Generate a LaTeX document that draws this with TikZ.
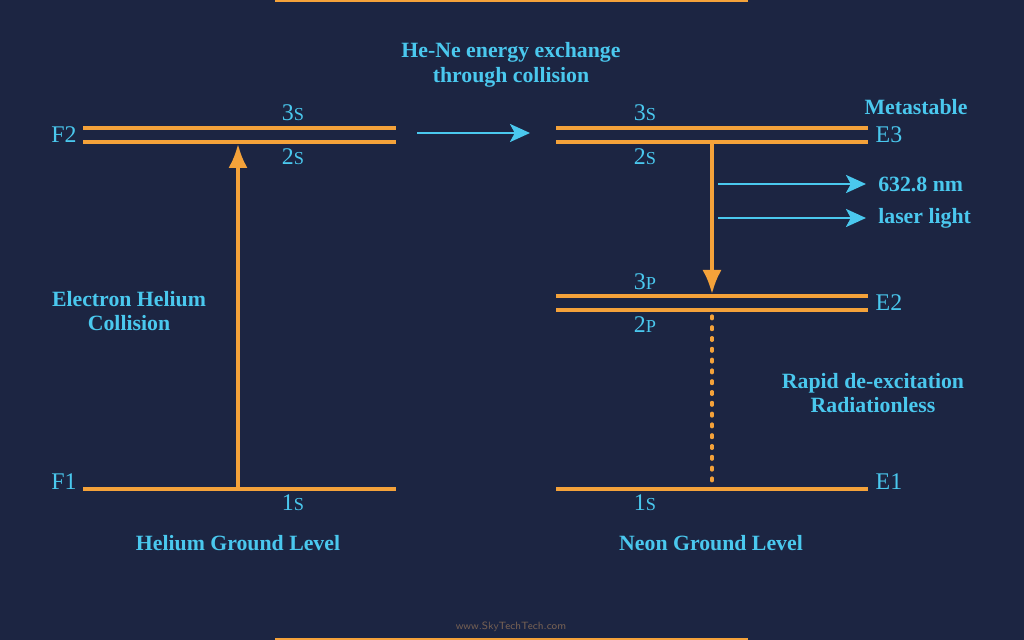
\documentclass[tikz,border=0pt]{standalone}
\usepackage{fontspec}
\setmainfont{Liberation Serif}
\usetikzlibrary{arrows.meta}
\definecolor{bgblue}{RGB}{28,37,66}
\definecolor{lvlorange}{RGB}{244,162,58}
\definecolor{txtcyan}{RGB}{74,200,238}
\definecolor{markgrey}{RGB}{120,98,84}
\newcommand{\orb}[2]{#1{\fontsize{13}{13}\selectfont #2}}
\tikzset{
  level/.style={draw=lvlorange, line width=1.1mm},
  lbl/.style={text=txtcyan, font=\bfseries\fontsize{15.5}{17.5}\selectfont, inner sep=0pt, align=center},
  orbit/.style={text=txtcyan, font=\fontsize{17}{17}\selectfont, inner sep=0pt},
  trans/.style={draw=lvlorange, line width=0.9mm, -{Latex[length=6mm,width=4.8mm]}},
  photon/.style={draw=txtcyan, line width=0.7mm, -{Stealth[length=5mm,width=4.5mm,inset=1.2mm]}}
}
\begin{document}
\begin{tikzpicture}[x=0.25mm, y=-0.25mm]
  \fill[bgblue] (0,0) rectangle (1024,640);
  \useasboundingbox (0,0) rectangle (1024,640);

      % frame bars
      \draw[level] (275,0) -- (748,0);
      \draw[level] (275,640) -- (748,640);

      % helium levels
      \coordinate (he3a) at (83,128);  \coordinate (he3b) at (396,128);
      \coordinate (he2a) at (83,142);  \coordinate (he2b) at (396,142);
      \coordinate (he1a) at (83,489);  \coordinate (he1b) at (396,489);
      \draw[level] (he3a) -- (he3b);
      \draw[level] (he2a) -- (he2b);
      \draw[level] (he1a) -- (he1b);

      % neon levels
      \coordinate (ne3a) at (556,128); \coordinate (ne3b) at (868,128);
      \coordinate (ne2a) at (556,142); \coordinate (ne2b) at (868,142);
      \coordinate (nepa) at (556,296); \coordinate (nepb) at (868,296);
      \coordinate (neqa) at (556,310); \coordinate (neqb) at (868,310);
      \coordinate (ne1a) at (556,489); \coordinate (ne1b) at (868,489);
      \draw[level] (ne3a) -- (ne3b);
      \draw[level] (ne2a) -- (ne2b);
      \draw[level] (nepa) -- (nepb);
      \draw[level] (neqa) -- (neqb);
      \draw[level] (ne1a) -- (ne1b);

      % transitions
      \coordinate (heup0) at (238,489); \coordinate (heup1) at (238,144);
      \coordinate (nedn0) at (712,142); \coordinate (nedn1) at (712,294);
      \coordinate (ndot0) at (712,316); \coordinate (ndot1) at (712,489);
      \draw[trans] (heup0) -- (heup1);
      \draw[trans] (nedn0) -- (nedn1);
      \draw[draw=lvlorange, line width=0.8mm, line cap=round,
            dash pattern=on 0.7mm off 2mm] (ndot0) -- (ndot1);

      \coordinate (xch0) at (417,133); \coordinate (xch1) at (530,133);
      \coordinate (lasa0) at (718,184); \coordinate (lasa1) at (866,184);
      \coordinate (lasb0) at (718,218); \coordinate (lasb1) at (866,218);
      \draw[photon] (xch0) -- (xch1);
      \draw[photon] (lasa0) -- (lasa1);
      \draw[photon] (lasb0) -- (lasb1);

      % level names
      \node[orbit] (f2) at (64,135) {F2};
      \node[orbit] (f1) at (64,482) {F1};
      \node[orbit] (e3) at (889,135) {E3};
      \node[orbit] (e2) at (889,303) {E2};
      \node[orbit] (e1) at (889,482) {E1};

      % orbitals
      \node[orbit] (h3s) at (293,113) {\orb{3}{S}};
      \node[orbit] (h2s) at (293,157) {\orb{2}{S}};
      \node[orbit] (h1s) at (293,503) {\orb{1}{S}};
      \node[orbit] (n3s) at (645,113) {\orb{3}{S}};
      \node[orbit] (n2s) at (645,157) {\orb{2}{S}};
      \node[orbit] (n3p) at (645,282) {\orb{3}{P}};
      \node[orbit] (n2p) at (645,325) {\orb{2}{P}};
      \node[orbit] (n1s) at (645,503) {\orb{1}{S}};

      % captions
      \node[lbl] (xchg) at (511,65) {He-Ne energy exchange\\through collision};
      \node[lbl] (meta) at (916,107) {Metastable};
      \node[lbl, anchor=west] (wave) at (878,184) {632.8 nm};
      \node[lbl, anchor=west] (lasr) at (878,218) {laser light};
      \node[lbl] (ecol) at (129,311) {Electron Helium\\Collision};
      \node[lbl] (rapd) at (873,393) {Rapid de-excitation\\Radiationless};
      \node[lbl] (hegl) at (238,543) {Helium Ground Level};
      \node[lbl] (negl) at (711,543) {Neon Ground Level};
      \node[text=markgrey, font=\sffamily\fontsize{7.5}{7.5}\selectfont, inner sep=0pt] (site) at (511,627) {www.SkyTechTech.com};
    \end{tikzpicture}
\end{document}
